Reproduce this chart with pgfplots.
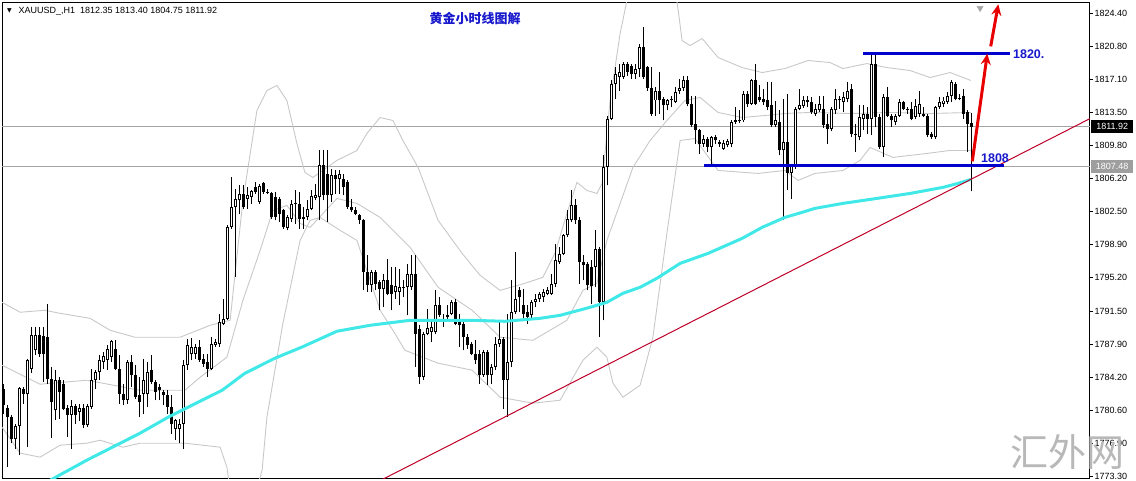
\documentclass[border=0pt]{standalone}
\usepackage{fontspec}
\setmainfont{Liberation Sans}
\newfontfamily\cjk{Noto Sans CJK SC}
\newfontfamily\dejavu{DejaVu Sans}
\usepackage{pgfplots}
\pgfplotsset{compat=1.18}
\usepackage{pgfplotstable}
\usetikzlibrary{arrows.meta}
\definecolor{macyan}{RGB}{64,232,232}
\definecolor{bandgray}{RGB}{200,200,200}
\definecolor{linegray}{RGB}{165,165,165}
\definecolor{objblue}{RGB}{0,0,205}
\definecolor{txtblue}{RGB}{24,24,204}
\definecolor{arrred}{RGB}{232,0,0}
\definecolor{trendred}{RGB}{190,0,40}

\pgfplotstableread{
i o h l c
0 1782.97 1783.52 1780.21 1781.13
1 1780.87 1781.13 1774.32 1779.84
2 1779.84 1780.02 1776.90 1777.34
3 1777.34 1779.03 1776.34 1778.81
4 1778.81 1783.15 1775.61 1783.08
5 1782.97 1783.15 1781.31 1782.42
6 1782.42 1786.28 1776.53 1786.17
7 1785.18 1789.78 1784.70 1788.93
8 1787.20 1789.78 1786.65 1788.93
9 1788.93 1789.78 1786.46 1786.83
10 1788.75 1789.78 1783.70 1786.76
11 1788.67 1792.35 1783.52 1784.07
12 1784.07 1785.36 1777.45 1781.50
13 1780.58 1784.99 1779.47 1783.89
14 1783.89 1784.26 1779.65 1782.60
15 1783.52 1783.89 1780.58 1780.76
16 1780.87 1781.13 1777.63 1780.02
17 1780.02 1781.68 1776.34 1781.02
18 1781.02 1781.31 1779.10 1780.02
19 1780.39 1781.31 1779.40 1780.87
20 1780.87 1781.24 1778.66 1778.92
21 1778.92 1781.31 1778.74 1781.02
22 1780.94 1785.18 1780.76 1783.89
23 1783.89 1784.99 1782.97 1784.81
24 1784.81 1786.65 1783.89 1786.10
25 1785.91 1787.02 1785.18 1786.54
26 1786.10 1787.75 1784.99 1787.38
27 1786.46 1788.30 1785.91 1788.23
28 1787.38 1788.30 1784.99 1785.18
29 1785.18 1786.65 1781.31 1782.42
30 1782.42 1783.52 1781.13 1781.68
31 1781.68 1786.10 1781.24 1785.91
32 1785.91 1786.65 1783.15 1784.44
33 1784.44 1785.54 1781.86 1782.05
34 1782.23 1784.26 1779.84 1781.50
35 1782.42 1786.28 1780.21 1783.89
36 1782.42 1785.91 1780.94 1784.81
37 1784.99 1786.65 1783.52 1783.70
38 1783.70 1783.89 1781.68 1782.60
39 1783.15 1783.52 1781.68 1782.78
40 1782.60 1782.78 1781.13 1782.23
41 1782.23 1782.78 1780.21 1780.94
42 1780.94 1782.23 1778.00 1779.10
43 1778.55 1779.65 1777.26 1779.47
44 1778.55 1779.65 1776.90 1779.10
45 1779.10 1786.10 1776.34 1785.54
46 1785.54 1788.49 1784.99 1787.75
47 1786.83 1788.60 1786.10 1787.57
48 1786.83 1787.94 1786.28 1787.57
49 1787.57 1788.30 1785.91 1786.10
50 1786.28 1786.83 1785.36 1785.73
51 1785.91 1786.83 1784.26 1785.18
52 1785.18 1788.67 1784.99 1787.94
53 1787.75 1788.49 1787.57 1788.12
54 1787.94 1791.25 1787.57 1790.33
55 1790.14 1792.90 1789.96 1790.70
56 1790.70 1801.00 1790.51 1800.82
57 1800.82 1806.34 1800.63 1803.02
58 1803.02 1805.05 1795.30 1803.94
59 1803.76 1805.42 1802.29 1804.50
60 1804.50 1805.42 1802.84 1803.02
61 1803.94 1805.23 1802.84 1804.31
62 1804.13 1804.86 1803.39 1804.79
63 1805.23 1805.78 1804.50 1804.68
64 1803.58 1805.60 1803.39 1805.31
65 1805.67 1805.78 1804.50 1804.68
66 1804.68 1805.05 1804.50 1804.57
67 1804.57 1804.68 1801.74 1801.92
68 1804.13 1804.68 1801.55 1801.92
69 1803.94 1804.13 1801.37 1802.29
70 1802.73 1802.84 1800.63 1800.82
71 1800.74 1802.10 1800.45 1801.92
72 1801.74 1803.76 1801.37 1803.32
73 1803.32 1804.86 1801.18 1803.47
74 1803.39 1804.68 1800.63 1801.74
75 1801.92 1803.02 1800.63 1801.74
76 1801.92 1803.76 1801.55 1802.84
77 1802.84 1804.86 1802.66 1804.20
78 1804.05 1805.60 1803.76 1804.31
79 1804.13 1809.28 1801.55 1807.62
80 1807.62 1809.28 1803.76 1804.31
81 1806.70 1809.28 1801.37 1804.31
82 1804.31 1807.26 1803.58 1806.52
83 1806.52 1807.07 1804.50 1806.15
84 1806.15 1807.07 1804.50 1806.70
85 1806.15 1806.70 1804.31 1805.23
86 1805.78 1805.97 1802.84 1803.02
87 1803.02 1803.94 1802.47 1802.66
88 1802.73 1803.02 1802.10 1802.29
89 1802.10 1802.29 1801.18 1801.55
90 1801.55 1801.74 1793.82 1795.85
91 1795.85 1797.69 1793.64 1794.38
92 1794.38 1796.03 1793.64 1795.85
93 1795.85 1796.03 1793.82 1794.56
94 1794.74 1794.93 1791.62 1794.01
95 1794.01 1795.66 1791.98 1794.93
96 1794.93 1797.32 1793.27 1793.46
97 1794.38 1796.40 1791.62 1793.46
98 1793.64 1796.40 1792.90 1794.27
99 1793.64 1796.22 1792.17 1794.19
100 1794.19 1794.93 1793.09 1794.12
101 1794.19 1796.77 1791.06 1795.59
102 1794.19 1797.69 1793.82 1795.66
103 1795.66 1797.69 1785.36 1789.04
104 1789.59 1789.96 1783.52 1784.26
105 1784.26 1789.22 1783.89 1789.04
106 1789.04 1791.80 1788.86 1789.70
107 1789.22 1790.51 1788.12 1789.78
108 1789.22 1793.82 1789.04 1792.17
109 1792.17 1793.09 1790.88 1791.06
110 1790.70 1791.25 1789.78 1790.33
111 1790.88 1792.17 1790.70 1791.06
112 1791.25 1792.72 1791.06 1792.54
113 1792.54 1792.90 1789.96 1790.14
114 1790.33 1791.25 1787.57 1789.96
115 1790.14 1790.51 1787.20 1788.67
116 1788.67 1789.04 1787.38 1787.75
117 1787.94 1788.12 1786.65 1786.83
118 1786.83 1788.30 1785.73 1786.10
119 1786.83 1787.20 1783.52 1784.44
120 1784.44 1787.20 1784.26 1787.02
121 1787.02 1787.20 1783.34 1784.44
122 1784.44 1785.73 1783.52 1785.36
123 1785.36 1788.67 1784.99 1787.94
124 1787.94 1790.33 1787.57 1788.49
125 1788.49 1788.67 1780.76 1783.89
126 1783.89 1791.25 1779.84 1785.91
127 1785.91 1794.93 1785.36 1791.43
128 1791.43 1798.06 1791.25 1792.90
129 1793.90 1794.19 1791.43 1793.09
130 1792.17 1794.01 1790.51 1791.25
131 1791.43 1792.17 1790.14 1790.88
132 1791.06 1792.72 1790.70 1792.54
133 1792.54 1793.46 1791.98 1792.90
134 1792.90 1793.64 1792.54 1793.46
135 1793.09 1794.01 1792.54 1793.64
136 1793.46 1794.19 1793.27 1793.82
137 1793.46 1795.66 1793.27 1794.56
138 1794.56 1798.98 1794.19 1797.14
139 1796.95 1798.61 1796.77 1797.88
140 1797.88 1800.08 1797.69 1799.90
141 1799.90 1802.66 1799.71 1801.74
142 1801.55 1804.86 1801.37 1803.21
143 1803.21 1803.94 1801.18 1801.55
144 1801.55 1801.92 1794.56 1796.95
145 1796.95 1797.69 1794.93 1796.58
146 1796.77 1796.95 1793.82 1794.38
147 1796.40 1797.14 1792.35 1794.27
148 1796.40 1800.45 1794.19 1798.42
149 1798.42 1798.61 1788.67 1792.54
150 1792.54 1808.73 1790.51 1807.44
151 1807.44 1813.14 1805.42 1812.78
152 1812.78 1817.01 1812.59 1816.64
153 1816.64 1818.48 1814.98 1817.74
154 1817.45 1818.85 1815.90 1817.93
155 1817.38 1819.03 1817.19 1818.85
156 1818.85 1819.03 1817.56 1817.93
157 1818.66 1818.85 1817.19 1817.74
158 1817.74 1818.85 1817.19 1818.30
159 1818.30 1821.06 1817.38 1820.69
160 1820.69 1822.90 1817.19 1817.38
161 1818.48 1818.66 1815.90 1816.20
162 1816.20 1818.48 1813.14 1813.33
163 1814.80 1816.27 1813.14 1815.90
164 1815.90 1817.93 1813.33 1814.80
165 1814.98 1815.17 1812.59 1814.25
166 1814.25 1814.98 1813.70 1814.87
167 1814.80 1815.35 1814.06 1814.98
168 1814.62 1816.27 1814.51 1815.72
169 1815.83 1817.19 1815.54 1816.20
170 1816.20 1817.56 1815.90 1817.01
171 1817.01 1817.56 1814.14 1814.36
172 1814.36 1815.35 1811.86 1812.04
173 1812.15 1815.35 1810.02 1811.49
174 1811.49 1811.67 1808.92 1809.94
175 1810.02 1810.94 1809.65 1810.57
176 1810.57 1810.75 1809.10 1809.65
177 1809.65 1810.83 1807.62 1810.75
178 1810.75 1810.94 1809.94 1810.38
179 1810.20 1810.38 1809.65 1809.94
180 1809.46 1810.38 1809.35 1810.09
181 1809.83 1810.57 1809.65 1810.31
182 1810.02 1812.59 1809.65 1812.41
183 1812.41 1814.06 1812.22 1812.59
184 1812.67 1813.70 1812.30 1812.52
185 1812.59 1815.90 1812.41 1815.54
186 1815.54 1815.90 1814.06 1814.43
187 1814.43 1817.19 1814.25 1817.01
188 1817.01 1818.85 1814.25 1814.43
189 1815.17 1816.46 1814.62 1814.80
190 1814.98 1816.09 1814.25 1814.62
191 1814.80 1816.82 1813.70 1814.06
192 1814.25 1816.82 1811.86 1812.04
193 1812.04 1814.80 1811.86 1812.59
194 1812.41 1813.70 1808.73 1809.28
195 1809.28 1814.98 1801.55 1810.20
196 1810.20 1815.54 1804.86 1806.78
197 1806.78 1807.81 1803.94 1807.62
198 1807.44 1814.06 1807.26 1813.88
199 1813.88 1816.09 1813.70 1814.25
200 1814.14 1815.35 1813.99 1814.87
201 1814.87 1815.35 1814.06 1814.62
202 1814.62 1815.17 1813.33 1813.51
203 1813.33 1814.43 1813.14 1813.88
204 1813.70 1815.35 1813.51 1814.36
205 1813.88 1815.35 1811.78 1812.04
206 1812.22 1813.33 1810.02 1811.67
207 1811.67 1814.06 1811.41 1813.88
208 1813.70 1816.09 1813.33 1814.98
209 1814.80 1815.35 1813.88 1814.98
210 1814.62 1815.72 1813.51 1815.17
211 1814.98 1816.82 1814.62 1815.90
212 1816.09 1816.64 1810.75 1811.12
213 1811.12 1812.22 1809.10 1810.94
214 1810.75 1814.25 1810.38 1812.96
215 1812.78 1814.25 1811.49 1813.33
216 1813.33 1814.06 1811.12 1812.78
217 1812.78 1819.95 1810.94 1818.85
218 1818.85 1819.95 1811.86 1812.96
219 1812.96 1813.33 1809.46 1809.65
220 1809.65 1815.54 1808.54 1815.17
221 1815.17 1816.27 1812.96 1813.14
222 1813.14 1813.33 1811.86 1812.59
223 1812.41 1813.33 1812.04 1813.14
224 1813.14 1814.98 1812.96 1814.62
225 1814.62 1814.80 1813.70 1813.88
226 1813.88 1814.06 1813.33 1813.70
227 1813.88 1814.62 1812.59 1812.78
228 1812.96 1814.98 1812.78 1814.14
229 1813.33 1815.90 1812.96 1814.43
230 1813.33 1814.06 1813.03 1813.14
231 1813.14 1813.33 1810.75 1810.94
232 1811.12 1811.30 1810.57 1810.75
233 1810.75 1814.14 1810.57 1814.06
234 1814.06 1815.17 1813.88 1814.62
235 1814.43 1815.17 1814.06 1814.80
236 1814.62 1815.72 1814.43 1815.35
237 1815.35 1817.01 1814.62 1816.82
238 1816.64 1816.82 1814.80 1814.98
239 1815.09 1815.54 1814.80 1814.94
240 1815.35 1816.09 1812.78 1813.33
241 1813.51 1813.70 1809.10 1812.22
242 1812.35 1813.40 1804.75 1811.92
}\candles

\begin{document}
\begin{tikzpicture}[x=1pt,y=1pt]
\begin{axis}[
  scale only axis, width=1088pt, height=476pt,
  xmin=-0.33, xmax=271.67, ymin=1773.03, ymax=1825.63,
  axis line style={black, line width=1pt},
  xtick=\empty,
  ytick={1773.30,1776.90,1780.60,1784.20,1787.90,1791.50,1795.20,1798.90,1802.50,1806.20,1809.80,1813.50,1817.10,1820.80,1824.40},
  yticklabels={1773.30,1776.90,1780.60,1784.20,1787.90,1791.50,1795.20,1798.90,1802.50,1806.20,1809.80,1813.50,1817.10,1820.80,1824.40},
  ytick pos=right, yticklabel pos=right,
  tick align=outside, major tick length=3pt,
  ytick style={black, line width=0.8pt},
  yticklabel style={font=\fontsize{9}{10}\selectfont, inner sep=1.5pt},
  clip=true,
]
% price lines
\addplot[linegray, line width=0.9pt, forget plot] coordinates {(-1,1811.92) (275,1811.92)};
\addplot[linegray, line width=0.9pt, forget plot] coordinates {(-1,1807.48) (275,1807.48)};
% Bollinger bands
\addplot[bandgray, line width=0.9pt, forget plot] coordinates {
(-0.3,1792.50) (4.2,1791.40) (10.4,1791.62) (14.2,1791.28) (21.7,1790.73) (26.7,1789.41) (32.9,1788.64) (44.2,1788.64) (51.7,1789.96) (56.7,1790.51) (59.9,1803.76) (63.4,1813.70) (65.9,1815.90) (68.4,1816.46) (70.9,1814.80) (73.4,1810.05) (75.4,1806.85) (77.4,1806.30) (83.4,1808.18) (88.4,1809.28) (90.9,1811.16) (94.2,1812.92) (97.4,1812.59) (99.9,1810.38) (103.7,1807.40) (108.7,1801.55) (114.7,1797.91) (119.2,1795.48) (124.2,1793.82) (130.4,1794.60) (134.9,1795.26) (137.9,1797.91) (140.9,1802.32) (143.4,1805.75) (145.9,1804.86) (148.4,1804.53) (149.7,1805.64) (151.7,1814.80) (154.2,1822.20) (155.9,1825.84) (161.7,1830.26) (167.2,1827.50) (168.4,1825.84) (169.7,1821.42) (171.7,1820.87) (174.7,1821.65) (178.7,1819.55) (184.7,1818.44) (189.7,1817.89) (195.4,1818.33) (201.2,1819.22) (206.7,1818.99) (209.9,1818.33) (215.9,1818.88) (220.9,1818.44) (226.7,1818.11) (231.7,1817.34) (236.7,1817.89) (241.9,1817.01)};
\addplot[bandgray, line width=0.9pt, forget plot] coordinates {
(-0.3,1785.54) (9.2,1783.45) (20.9,1783.89) (34.2,1782.78) (45.4,1782.78) (49.2,1784.22) (55.9,1786.43) (59.9,1792.72) (64.2,1798.24) (67.4,1802.66) (70.9,1803.21) (74.2,1801.22) (76.7,1800.78) (83.4,1803.98) (88.4,1803.43) (94.2,1801.88) (101.7,1798.57) (108.7,1794.16) (117.2,1791.62) (124.2,1788.64) (132.4,1788.30) (140.9,1790.51) (144.9,1793.82) (148.4,1794.60) (150.9,1799.34) (157.4,1807.40) (161.7,1810.38) (165.9,1812.59) (170.4,1814.80) (174.2,1815.13) (178.7,1813.48) (184.7,1812.92) (190.4,1813.14) (195.4,1813.36) (201.7,1813.48) (211.7,1813.36) (221.7,1813.48) (231.7,1813.36) (241.9,1813.48)};
\addplot[bandgray, line width=0.9pt, forget plot] coordinates {
(-0.3,1778.70) (4.2,1775.83) (9.2,1775.39) (14.2,1776.71) (20.9,1776.93) (24.2,1777.26) (29.9,1776.49) (34.2,1776.93) (45.4,1776.93) (54.2,1776.49) (55.9,1774.28) (56.7,1771.74) (62.9,1771.19) (64.7,1773.95) (65.9,1779.80) (69.9,1790.18) (74.2,1799.34) (76.7,1801.55) (79.2,1801.88) (84.2,1800.45) (88.4,1799.34) (94.2,1791.62) (97.4,1789.41) (100.4,1787.20) (108.7,1785.77) (117.2,1785.00) (124.2,1782.01) (132.4,1781.35) (139.2,1781.68) (144.9,1786.10) (148.4,1787.53) (150.9,1786.43) (152.4,1783.56) (154.9,1782.01) (159.2,1783.34) (162.4,1788.64) (165.9,1800.12) (169.2,1810.38) (172.9,1810.60) (178.7,1807.07) (188.7,1806.74) (195.4,1807.07) (198.7,1805.97) (202.9,1806.74) (209.9,1807.07) (214.2,1808.18) (216.7,1809.61) (222.4,1808.51) (230.9,1808.95) (236.7,1809.28) (241.9,1809.28)};
% candles: wicks
\addplot[black, only marks, mark size=0pt, mark options={draw=none, fill=none}, forget plot,
  error bars/.cd, y dir=plus, y explicit, error mark=none,
  error bar style={black, line width=1pt}]
  table[x=i, y=l, y error expr=\thisrow{h}-\thisrow{l}] {\candles};
% candles: body outline / black body
\addplot[black, only marks, mark size=0pt, mark options={draw=none, fill=none}, forget plot,
  error bars/.cd, y dir=plus, y explicit, error mark=none,
  error bar style={black, line width=3pt}]
  table[x=i, y expr={min(\thisrow{o},\thisrow{c})}, y error expr={max(abs(\thisrow{c}-\thisrow{o}),0.11)}] {\candles};
% candles: white interior of bullish bodies
\addplot[white, only marks, mark size=0pt, mark options={draw=none, fill=none}, forget plot,
  error bars/.cd, y dir=plus, y explicit, error mark=none,
  error bar style={white, line width=1.1pt}]
  table[x=i, y expr={\thisrow{o}+0.11}, y error expr={max(\thisrow{c}-\thisrow{o}-0.22,0)}] {\candles};
% moving average
\addplot[macyan, line width=3pt, forget plot] coordinates {
(10.4,1772.52) (20.9,1775.06) (34.2,1778.04) (41.2,1779.80) (49.7,1781.68) (54.7,1782.78) (60.4,1784.66) (67.9,1786.32) (74.9,1787.60) (83.4,1789.30) (91.7,1789.96) (101.7,1790.51) (108.7,1790.51) (117.2,1790.51) (125.4,1790.40) (134.2,1790.73) (139.2,1791.06) (146.7,1791.95) (150.9,1792.50) (154.9,1793.49) (159.2,1794.16) (163.4,1795.15) (169.2,1796.80) (176.2,1797.91) (184.7,1799.56) (189.7,1800.78) (195.4,1801.88) (199.7,1802.44) (202.9,1802.88) (209.9,1803.43) (218.4,1803.98) (226.7,1804.53) (234.9,1805.20) (238.7,1805.64) (241.9,1806.08)};
% trend line
\addplot[trendred, line width=1pt, forget plot] coordinates {(90,1771.85) (275,1813.55)};
% blue levels
\addplot[objblue, line width=3pt, forget plot] coordinates {(175.2,1807.61) (250.25,1807.61)};
\addplot[objblue, line width=3pt, forget plot] coordinates {(215.0,1819.97) (251.7,1819.97)};
% red arrows
\addplot[arrred, line width=3pt, forget plot, -{Stealth[length=11pt,width=10pt]}] coordinates {(242.25,1808.08) (246.0,1819.97)};
\addplot[arrred, line width=3pt, forget plot, -{Stealth[length=11pt,width=10pt]}] coordinates {(246.85,1820.78) (248.75,1825.43)};
% shift marker
\addplot[only marks, forget plot, mark=triangle*, mark size=3.5pt, mark options={rotate=180, fill=black!35, draw=black!35}] coordinates {(244.2,1825.0)};
\node[anchor=west, text=txtblue, font=\bfseries\fontsize{12.5}{13}\selectfont, inner sep=0pt] at (axis cs:252.4,1819.97) {1820.};
\node[anchor=west, text=txtblue, font=\bfseries\fontsize{12.5}{13}\selectfont, inner sep=0pt] at (axis cs:244.4,1808.46) {1808};
\coordinate (SW) at (rel axis cs:0,0);
\coordinate (b1) at (axis cs:271.67,1811.92);
\coordinate (b2) at (axis cs:271.67,1807.48);
\end{axis}
\pgfresetboundingbox
\coordinate (O) at ([shift={(-2,-2.5)}]SW);
\useasboundingbox (O) rectangle ([shift={(1136,481)}]O);
% price boxes on the scale
\node[anchor=west, fill=black, text=white, minimum width=42pt, minimum height=13pt, inner sep=0pt, font=\fontsize{9}{10}\selectfont] at ([xshift=1pt]b1) {1811.92};
\node[anchor=west, fill=black!38, text=white, minimum width=42pt, minimum height=13pt, inner sep=0pt, font=\fontsize{9}{10}\selectfont] at ([xshift=1pt]b2) {1807.48};
\begin{scope}[shift={(O)}]
% header
\node[font=\dejavu\fontsize{6}{6}\selectfont, inner sep=0pt] at (9.5,470) {▼};
\node[anchor=west, inner sep=0pt, font=\fontsize{9}{10}\selectfont] at (18.5,470) {XAUUSD\_,H1\ \ 1812.35 1813.40 1804.75 1811.92};
% title
\node[text=txtblue, font=\cjk\bfseries\fontsize{13}{14}\selectfont, inner sep=0pt] at (475,462) {黄金小时线图解};
% watermark
\node[text=black!28, font=\cjk\fontsize{38}{40}\selectfont, inner sep=0pt] at (1067,29) {汇外网};
\end{scope}
\end{tikzpicture}
\end{document}
